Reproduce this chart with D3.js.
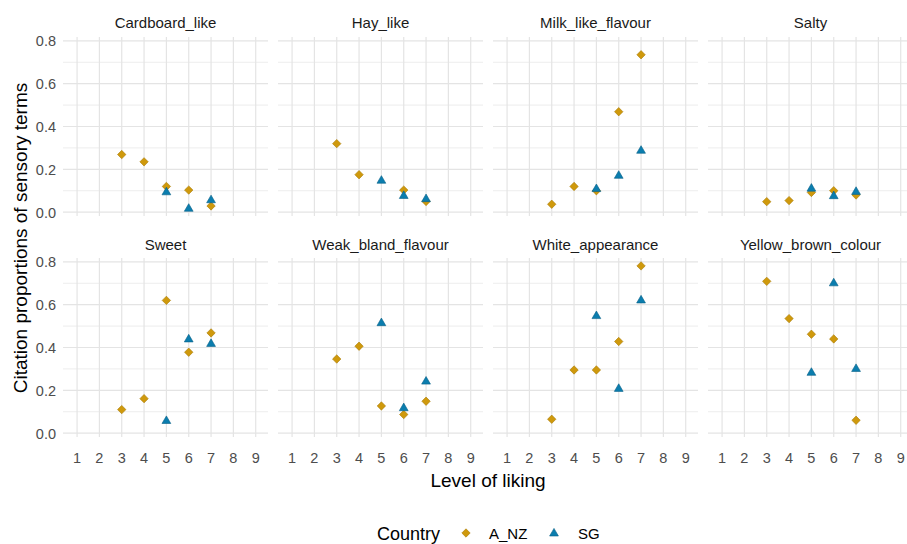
<!DOCTYPE html>
<html><head><meta charset="utf-8">
<script src="https://cdn.jsdelivr.net/npm/d3@7"></script>
<style>body{margin:0;background:#fff}svg{display:block;font-family:"Liberation Sans",Arial,sans-serif}</style>
</head><body><svg id="c" width="907" height="544"></svg>
<script>
const facets = ["Cardboard_like","Hay_like","Milk_like_flavour","Salty","Sweet","Weak_bland_flavour","White_appearance","Yellow_brown_colour"];
const countries = ["A_NZ","SG"];
const xTicks = [1,2,3,4,5,6,7,8,9];
const yTicks = [0,0.2,0.4,0.6,0.8];
const yMinor = [0.1,0.3,0.5,0.7];
const anzLiking = [3,4,5,6,7];
const sgLiking = [5,6,7];
const anzValues = [
  [0.269,0.235,0.12,0.103,0.029],
  [0.32,0.175,null,0.103,0.05],
  [0.037,0.12,0.10,0.469,0.735],
  [0.049,0.054,0.092,0.10,0.08],
  [0.11,0.161,0.62,0.378,0.468],
  [0.346,0.406,0.127,0.087,0.149],
  [0.065,0.295,0.295,0.428,0.781],
  [0.709,0.535,0.462,0.44,0.06]
];
const sgValues = [
  [0.095,0.018,0.058],
  [0.149,0.078,0.063],
  [0.11,0.172,0.289],
  [0.112,0.077,0.097],
  [0.059,0.44,0.419],
  [0.516,0.119,0.243],
  [0.549,0.209,0.622],
  [0.284,0.702,0.302]
];
const colors = {A_NZ:"#CF990C", SG:"#0B7DAE"};
const strokes = {A_NZ:"#A87A05", SG:"#075F87"};

const svg = d3.select("#c");
const colLeft = [63,278,493,708], panelW = 205;
const rowTop = [37,258], panelH = 179;
const diamond = "M0,-4.2L4.2,0L0,4.2L-4.2,0Z";
const tri = "M0,-4.6L4.4,3L-4.4,3Z";

facets.forEach((f,i)=>{
  const r = Math.floor(i/4), c = i%4;
  const L = colLeft[c], T = rowTop[r];
  const x = d3.scaleLinear().domain([0.37,9.55]).range([L, L+panelW]);
  const y = d3.scaleLinear().domain([-0.018,0.818]).range([T+panelH, T]);
  const g = svg.append("g");
  g.selectAll("line.ym").data(yMinor).join("line")
    .attr("x1",L).attr("x2",L+panelW).attr("y1",d=>y(d)).attr("y2",d=>y(d))
    .attr("stroke","#EDEDED").attr("stroke-width",1);
  g.selectAll("line.yM").data(yTicks).join("line")
    .attr("x1",L).attr("x2",L+panelW).attr("y1",d=>y(d)).attr("y2",d=>y(d))
    .attr("stroke","#E4E4E4").attr("stroke-width",1.2);
  g.selectAll("line.xM").data(xTicks).join("line")
    .attr("x1",d=>x(d)).attr("x2",d=>x(d)).attr("y1",T).attr("y2",T+panelH)
    .attr("stroke","#E4E4E4").attr("stroke-width",1.2);
  g.append("text").attr("x",L+panelW/2).attr("y", r===0 ? 28 : 250)
    .attr("text-anchor","middle").attr("font-size",15).attr("fill","#1a1a1a").text(f);
  if (c===0) {
    g.selectAll("text.yl").data(yTicks).join("text")
      .attr("x",56).attr("y",d=>y(d)+5.5).attr("text-anchor","end")
      .attr("font-size",14.5).attr("fill","#4d4d4d").text(d=>d3.format(".1f")(d));
  }
  if (r===1) {
    g.selectAll("text.xl").data(xTicks).join("text")
      .attr("x",d=>x(d)).attr("y",463).attr("text-anchor","middle")
      .attr("font-size",14.5).attr("fill","#4d4d4d").text(d=>d);
  }
  const anz = anzLiking.map((l,j)=>({l, v:anzValues[i][j]})).filter(d=>d.v!==null);
  const sg = sgLiking.map((l,j)=>({l, v:sgValues[i][j]}));
  g.selectAll("path.a").data(anz).join("path").attr("d",diamond)
    .attr("transform",d=>`translate(${x(d.l)},${y(d.v)})`)
    .attr("fill",colors.A_NZ).attr("stroke",strokes.A_NZ).attr("stroke-width",0.6);
  g.selectAll("path.s").data(sg).join("path").attr("d",tri)
    .attr("transform",d=>`translate(${x(d.l)},${y(d.v)})`)
    .attr("fill",colors.SG).attr("stroke",strokes.SG).attr("stroke-width",0.6);
});

svg.append("text").attr("x",488).attr("y",487).attr("text-anchor","middle")
  .attr("font-size",19).attr("fill","#000").text("Level of liking");
svg.append("text").attr("transform","translate(27,238) rotate(-90)").attr("text-anchor","middle")
  .attr("font-size",19).attr("fill","#000").text("Citation proportions of sensory terms");

const lg = svg.append("g");
lg.append("text").attr("x",377).attr("y",540).attr("font-size",18).attr("fill","#000").text("Country");
lg.append("path").attr("d",diamond).attr("transform","translate(466,533)")
  .attr("fill",colors.A_NZ).attr("stroke",strokes.A_NZ).attr("stroke-width",0.6);
lg.append("text").attr("x",489).attr("y",539).attr("font-size",15).attr("fill","#000").text(countries[0]);
lg.append("path").attr("d",tri).attr("transform","translate(554,533)")
  .attr("fill",colors.SG).attr("stroke",strokes.SG).attr("stroke-width",0.6);
lg.append("text").attr("x",578).attr("y",539).attr("font-size",15).attr("fill","#000").text(countries[1]);
</script></body></html>
